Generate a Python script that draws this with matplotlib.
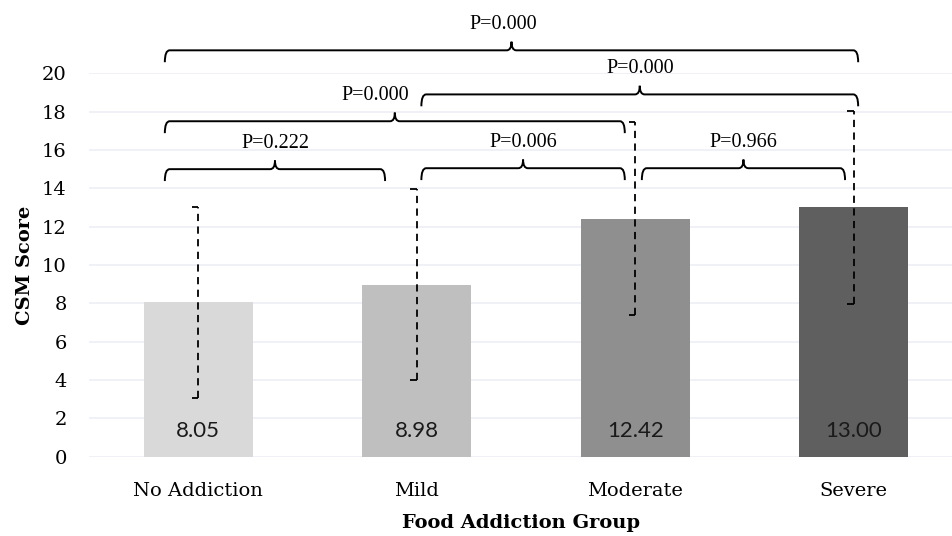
import numpy as np
import matplotlib.pyplot as plt
from matplotlib.path import Path
import matplotlib.patches as mpatches

#%% Data

groups = ["No Addiction", "Mild", "Moderate", "Severe"]
means = [8.05, 8.98, 12.42, 13.00]
sds = [5.00, 4.98, 5.05, 5.03]
bar_colors = ["#d9d9d9", "#bfbfbf", "#8f8f8f", "#5f5f5f"]

# comparisons: (left group, right group), bracket level, p label
comp_pairs = [(0, 1), (1, 2), (2, 3), (0, 2), (1, 3), (0, 3)]
comp_levels = [15.0, 15.05, 15.05, 17.5, 18.9, 21.2]
comp_labels = ["P=0.222", "P=0.006", "P=0.966", "P=0.000", "P=0.000", "P=0.000"]

#%% Plot

plt.rcParams['font.family'] = ['DejaVu Serif']

fig = plt.figure(figsize=(9.53, 5.36), dpi=100)
ax = fig.add_axes([0.0934, 0.148, 0.9066, 0.7152])

x = np.arange(len(groups))

ax.bar(x, means, width=0.5, color=bar_colors, zorder=2)

# dashed error bars with half caps
for xi, m, s in zip(x, means, sds):
    ax.vlines(xi, m - s, m + s, colors="black", linestyles=(0, (4, 3)), lw=1.3, zorder=3)
    ax.hlines([m - s, m + s], xi - 0.03, xi, colors="black", lw=1.3, zorder=3)

for xi, m in zip(x, means):
    ax.text(xi, 1.35, f"{m:.2f}", ha="center", va="center", fontsize=16,
            family="Lato", color="#1a1a1a", zorder=4)


def brace(ax, x0, x1, y, label, text_dx=0.0):
    dx = 0.022
    drop = 0.62
    rise = 0.45
    xm = (x0 + x1) / 2
    verts = [(x0, y - drop), (x0, y), (x0 + dx, y),
             (xm - dx, y), (xm, y), (xm, y + rise),
             (xm, y), (xm + dx, y),
             (x1 - dx, y), (x1, y), (x1, y - drop)]
    codes = [Path.MOVETO, Path.CURVE3, Path.CURVE3,
             Path.LINETO, Path.CURVE3, Path.CURVE3,
             Path.CURVE3, Path.CURVE3,
             Path.LINETO, Path.CURVE3, Path.CURVE3]
    patch = mpatches.PathPatch(Path(verts, codes), fill=False, lw=1.4,
                               edgecolor="black", clip_on=False, zorder=5)
    ax.add_patch(patch)
    ax.text(xm + text_dx, y + 0.85, label, ha="center", va="bottom", fontsize=14.5,
            family="Liberation Serif", clip_on=False)


# bracket ends sit a little off the group centres
lo_shift = [-0.153, 0.021, 0.03, -0.153, 0.021, -0.153]
hi_shift = [-0.145, -0.048, -0.04, -0.048, 0.02, 0.02]
text_shift = [0, 0, 0, -0.09, 0, -0.036]
for k, (i, j) in enumerate(comp_pairs):
    brace(ax, i + lo_shift[k], j + hi_shift[k], comp_levels[k], comp_labels[k], text_shift[k])

ax.set_xlim(-0.5, 3.454)
ax.set_ylim(0, 20)
ax.set_yticks(np.arange(0, 21, 2))
ax.set_xticks(x)
ax.set_xticklabels(groups, fontsize=14)
ax.tick_params(axis="y", labelsize=14, length=0, pad=16)
ax.tick_params(axis="x", length=0, pad=18)

ax.grid(axis="y", color="#eceff5", lw=1.2, zorder=0)
ax.set_axisbelow(True)
for sp in ax.spines.values():
    sp.set_visible(False)

ax.set_ylabel("CSM Score", fontsize=14, fontweight="bold", labelpad=6)
ax.set_xlabel("Food Addiction Group", fontsize=14, fontweight="bold", labelpad=10)

plt.savefig("out.png", dpi=100)
